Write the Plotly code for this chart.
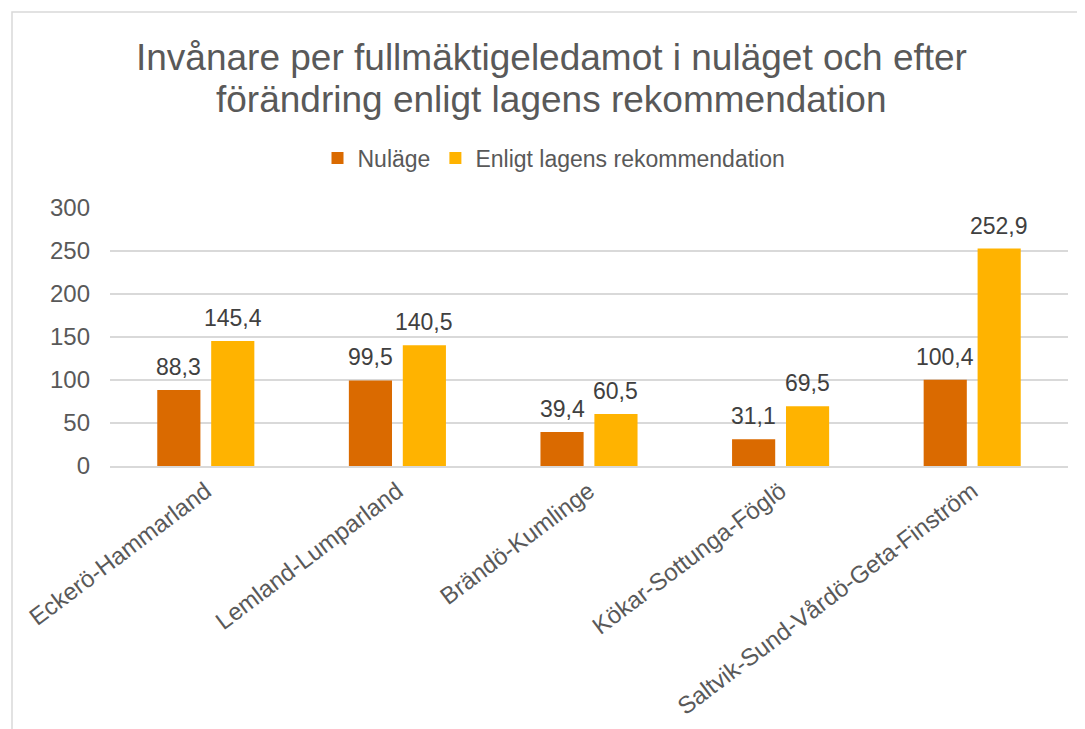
import plotly.graph_objects as go

categories = ["Eckerö-Hammarland", "Lemland-Lumparland", "Brändö-Kumlinge",
              "Kökar-Sottunga-Föglö", "Saltvik-Sund-Vårdö-Geta-Finström"]
nulage = [88.3, 99.5, 39.4, 31.1, 100.4]
enligt = [145.4, 140.5, 60.5, 69.5, 252.9]
series_names = ["Nuläge", "Enligt lagens rekommendation"]
title_lines = ["Invånare per fullmäktigeledamot i nuläget och efter",
               "förändring enligt lagens rekommendation"]
y_ticks = [0, 50, 100, 150, 200, 250, 300]

W, H = 1085, 729
ML, MR, MT, MB = 102, 25, 200, 271
FONT = "Liberation Sans, Arial, sans-serif"
BARGAP, BARGROUPGAP = 0.437, 0.2
colors = ["#DA6A00", "#FFB300"]

pw = W - ML - MR
ph = H - MT - MB


def py(y_px):
    """figure pixel (from top) -> paper y"""
    return 1 + (MT - y_px) / ph


def px(x_px):
    return (x_px - ML) / pw


fig = go.Figure()
for name, vals, col in [(series_names[0], nulage, colors[0]),
                        (series_names[1], enligt, colors[1])]:
    fig.add_trace(go.Bar(x=categories, y=vals, name=name,
                         marker=dict(color=col, line=dict(width=0))))

annotations = []
# data labels, centered on each bar of the group
slot = (1 - BARGAP) / 2
for k, vals in enumerate([nulage, enligt]):
    off = (k - 0.5) * slot
    for i, v in enumerate(vals):
        annotations.append(dict(
            x=i + off, y=v, xref="x", yref="y",
            text=f"{v:.1f}".replace(".", ","), showarrow=False,
            xanchor="center", yanchor="bottom", yshift=8,
            font=dict(size=23, color="#404040", family=FONT)))

# title (two lines with tight spacing)
for line, ymid in zip(title_lines, [50, 91]):
    annotations.append(dict(
        x=px(543), y=py(ymid), xref="paper", yref="paper",
        text=line, showarrow=False, xanchor="center", yanchor="middle",
        font=dict(size=37, color="#595959", family=FONT)))

fig.update_layout(
    width=W, height=H,
    margin=dict(l=ML, r=MR, t=MT, b=MB, autoexpand=False),
    paper_bgcolor="white", plot_bgcolor="white",
    font=dict(family=FONT, color="#595959"),
    showlegend=True,
    legend=dict(orientation="h", x=px(546), xanchor="center",
                y=py(150), yanchor="middle",
                font=dict(size=23, color="#595959", family=FONT),
                itemwidth=30, traceorder="normal"),
    barmode="group", bargap=BARGAP, bargroupgap=BARGROUPGAP,
    xaxis=dict(tickangle=-37, tickfont=dict(size=24, color="#595959", family=FONT),
               showgrid=False, showline=True, linecolor="#D9D9D9", linewidth=1.5,
               ticks=""),
    yaxis=dict(range=[0, 300], tickvals=y_ticks,
               tickfont=dict(size=24, color="#595959", family=FONT),
               showgrid=True, gridcolor="#D9D9D9", gridwidth=1.5,
               zeroline=False, showline=False, ticks="", ticklabelstandoff=19),
    annotations=annotations,
    shapes=[dict(type="rect", xref="paper", yref="paper",
                 x0=px(4), x1=1.2, y0=-2, y1=py(4),
                 line=dict(color="#D9D9D9", width=1.5), fillcolor="rgba(0,0,0,0)",
                 layer="below")],
)

fig.write_html("out.html")
